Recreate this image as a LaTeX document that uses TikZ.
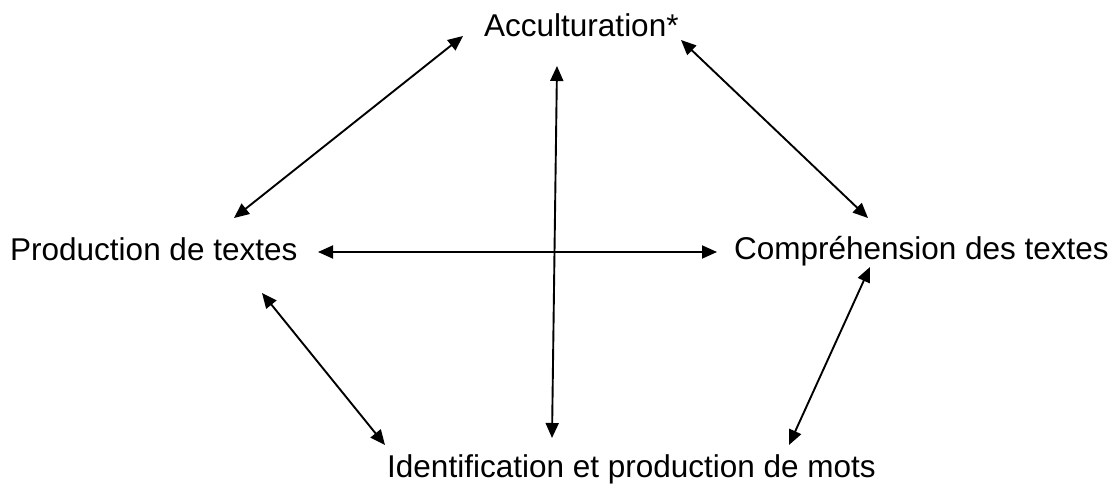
\documentclass[tikz,border=0pt]{standalone}
\usepackage{fontspec}
\setmainfont{Liberation Sans}
\usetikzlibrary{arrows.meta}

\tikzset{
    lbl/.style={inner sep=0pt, font=\fontsize{31.5}{36}\selectfont},
    link/.style={arrows={Triangle[length=15pt,width=13pt]-Triangle[length=15pt,width=13pt]}, line width=1.9pt},
}

\begin{document}
\begin{tikzpicture}[x=1pt, y=-1pt]
        \useasboundingbox (0,0) rectangle (1117,484);

        \node[lbl, anchor=base west] (acc) at (484,37) {Acculturation*};
        \node[lbl, anchor=base west] (prod) at (10,260) {Production de textes};
        \node[lbl, anchor=base east] (comp) at (1109,259) {Compréhension des textes};
        \node[lbl, anchor=base west] (ident) at (387,477) {Identification et production de mots};

        % arrow ends
        \coordinate (acc-l) at (463,36);
        \coordinate (acc-r) at (681,40);
        \coordinate (acc-b) at (557,66);
        \coordinate (prod-t) at (234,218);
        \coordinate (prod-r) at (318,252);
        \coordinate (prod-b) at (262,293);
        \coordinate (comp-t) at (868,218);
        \coordinate (comp-l) at (717,252);
        \coordinate (comp-b) at (870,267);
        \coordinate (ident-t) at (552,438);
        \coordinate (ident-l) at (385,445);
        \coordinate (ident-r) at (789,445);

        \draw[link] (acc-l) -- (prod-t);
        \draw[link] (acc-r) -- (comp-t);
        \draw[link] (acc-b) -- (ident-t);
        \draw[link] (prod-r) -- (comp-l);
        \draw[link] (prod-b) -- (ident-l);
        \draw[link] (comp-b) -- (ident-r);
    \end{tikzpicture}
\end{document}
